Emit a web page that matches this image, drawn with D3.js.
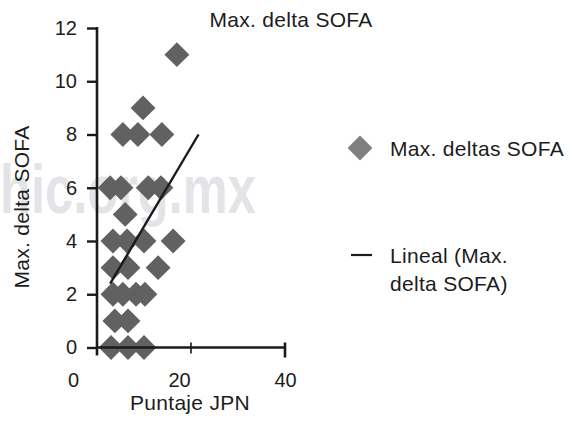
<!DOCTYPE html>
<html>
<head>
<meta charset="utf-8">
<script src="https://cdn.jsdelivr.net/npm/d3@7"></script>
<style>
  body { margin: 0; background: #fff; }
  svg { display: block; }
  text { font-family: "Liberation Sans", Arial, Helvetica, sans-serif; fill: #1c1c1c; }
  .label { font-size: 21px; letter-spacing: 0.3px; }
</style>
</head>
<body>
<svg id="chart" width="572" height="437"></svg>
<script>
// JPN score (x) and maximum SOFA delta (y) per patient
const jpnScore  = [17.0, 9.8, 5.5, 8.7, 13.8, 2.8, 5.1, 10.9, 13.6, 6.0, 3.4, 6.4, 10.0, 16.2, 3.4, 6.6, 13.0, 3.4, 5.5, 8.3, 10.2, 3.8, 6.6, 3.0, 6.6, 10.0];
const deltaSofa = [11, 9, 8, 8, 8, 6, 6, 6, 6, 5, 4, 4, 4, 4, 3, 3, 3, 2, 2, 2, 2, 1, 1, 0, 0, 0];

// Linear trend line end points
const trendX = [2.8, 21.6];
const trendY = [2.4, 8.0];

const xTicks = [0, 20, 40];
const yTicks = [0, 2, 4, 6, 8, 10, 12];

const chartTitle = "Max. delta SOFA";
const xTitle = "Puntaje JPN";
const yTitle = "Max. delta SOFA";
const legendPoints = "Max. deltas SOFA";
const legendTrend = ["Lineal (Max.", "delta SOFA)"];
const watermark = "hic.org.mx";

const svg = d3.select("#chart");

const x = d3.scaleLinear().domain([0, 40]).range([97, 285]);
const xLabel = d3.scaleLinear().domain([0, 40]).range([73, 285]);
const y = d3.scaleLinear().domain([0, 12]).range([347.5, 28]);

// faint site stamp behind the plot
svg.append("text")
  .attr("x", 0).attr("y", 213)
  .attr("textLength", 256).attr("lengthAdjust", "spacingAndGlyphs")
  .style("font-size", "68px").style("font-weight", "bold")
  .style("fill", "#e3e4e8")
  .text(watermark);

// points
const diamond = d3.symbol().type(d3.symbolSquare).size(310);
svg.append("g").selectAll("path")
  .data(jpnScore.map((v, i) => [v, deltaSofa[i]]))
  .join("path")
  .attr("d", diamond)
  .attr("transform", d => `translate(${x(d[0])},${y(d[1])}) rotate(45)`)
  .attr("fill", "#616161");

// trend line
svg.append("line")
  .attr("x1", x(trendX[0])).attr("y1", y(trendY[0]))
  .attr("x2", x(trendX[1])).attr("y2", y(trendY[1]))
  .attr("stroke", "#1a1a1a").attr("stroke-width", 2.4);

// y axis
const yAxis = svg.append("g")
  .attr("transform", `translate(${x(0)},0)`)
  .call(d3.axisLeft(y).tickValues(yTicks).tickSize(10).tickSizeOuter(0).tickPadding(10));
yAxis.select(".domain").remove();
yAxis.selectAll(".tick line").attr("stroke", "#1a1a1a").attr("stroke-width", 2.4);
yAxis.selectAll(".tick text").style("font-size", "20px").attr("fill", "#1c1c1c");
yAxis.append("line")
  .attr("x1", 0).attr("x2", 0)
  .attr("y1", y(12) - 1).attr("y2", y(0) + 8)
  .attr("stroke", "#1a1a1a").attr("stroke-width", 2.6);

// x axis: line with crossing tick marks
const xAxis = svg.append("g").attr("transform", `translate(0,${y(0)})`);
xAxis.append("line")
  .attr("x1", x(0)).attr("x2", x(40))
  .attr("stroke", "#1a1a1a").attr("stroke-width", 2.4);
xAxis.selectAll(".xtick")
  .data(xTicks.filter(t => t > 0))
  .join("line")
  .attr("class", "xtick")
  .attr("x1", d => x(d)).attr("x2", d => x(d))
  .attr("y1", -5).attr("y2", d => d === 40 ? 10 : 6)
  .attr("stroke", "#1a1a1a").attr("stroke-width", d => d === 40 ? 2.6 : 1.6);

// x tick labels
svg.append("g")
  .attr("transform", `translate(0,${y(0) + 25})`)
  .call(d3.axisBottom(xLabel).tickValues(xTicks).tickSize(0).tickPadding(0))
  .call(g => g.select(".domain").remove())
  .selectAll("text").style("font-size", "20px").attr("fill", "#1c1c1c");

// titles
svg.append("text").attr("class", "label")
  .attr("x", 291).attr("y", 27).attr("text-anchor", "middle")
  .text(chartTitle);
svg.append("text").attr("class", "label")
  .attr("x", 190).attr("y", 410).attr("text-anchor", "middle")
  .text(xTitle);
svg.append("text").attr("class", "label")
  .attr("transform", "translate(29,207) rotate(-90)").attr("text-anchor", "middle")
  .text(yTitle);

// legend
const legend = svg.append("g");
legend.append("path")
  .attr("d", diamond)
  .attr("transform", "translate(360,148) rotate(45)")
  .attr("fill", "#808080");
legend.append("text").attr("class", "label")
  .attr("x", 390).attr("y", 156)
  .text(legendPoints);
legend.append("line")
  .attr("x1", 351).attr("x2", 372).attr("y1", 255).attr("y2", 255)
  .attr("stroke", "#1a1a1a").attr("stroke-width", 2.2);
legend.append("text").attr("class", "label")
  .attr("x", 390).attr("y", 263)
  .selectAll("tspan").data(legendTrend).join("tspan")
  .attr("x", 390).attr("dy", (d, i) => i === 0 ? 0 : 28)
  .text(d => d);
</script>
</body>
</html>
